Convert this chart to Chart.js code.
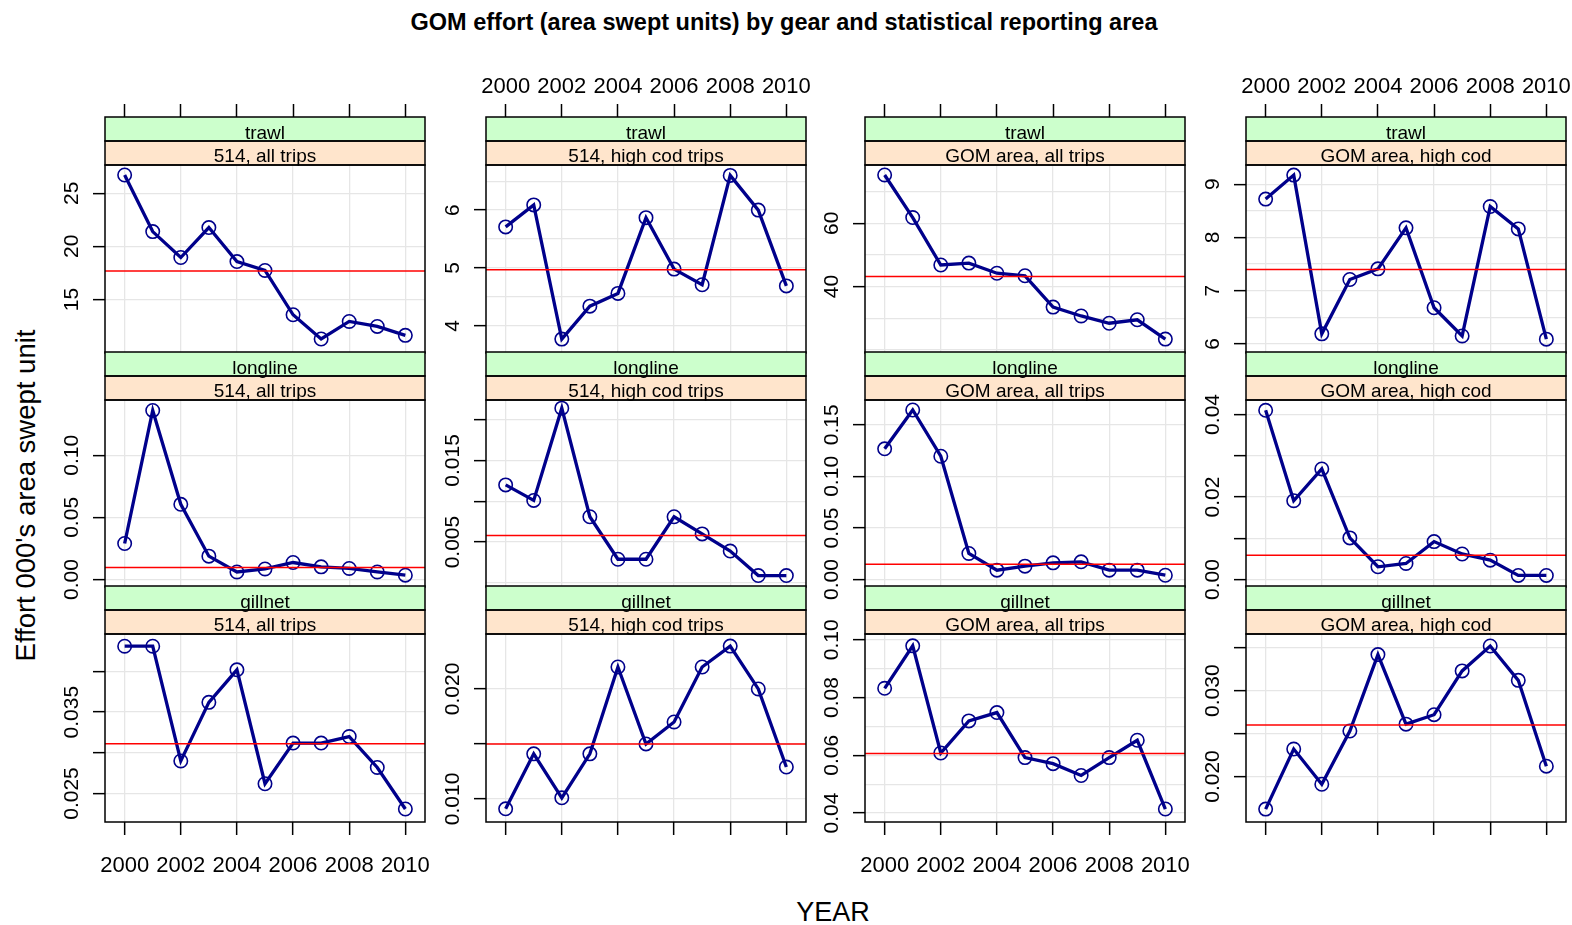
<!DOCTYPE html>
<html><head><meta charset="utf-8">
<script src="https://cdn.jsdelivr.net/npm/chart.js@4.4.1/dist/chart.umd.min.js"></script>
<style>
html,body{margin:0;padding:0;background:#fff;width:1572px;height:925px;overflow:hidden;font-family:'Liberation Sans',Arial,sans-serif;}
canvas{position:absolute;}
.t{position:absolute;white-space:nowrap;color:#000;}
</style></head><body>
<div class="t" style="left:0;width:1568px;top:9px;text-align:center;font-weight:bold;font-size:23.5px;">GOM effort (area swept units) by gear and statistical reporting area</div>
<div class="t" style="left:0;width:1666px;top:897px;text-align:center;font-size:27px;">YEAR</div>
<div class="t" style="left:-275px;width:600px;top:480px;text-align:center;font-size:27.5px;line-height:31px;transform:rotate(-90deg);transform-origin:300px 15.5px;">Effort 000's area swept unit</div>
<script>
// ---------- data ----------
const years = [2000, 2001, 2002, 2003, 2004, 2005, 2006, 2007, 2008, 2009, 2010];
const xTicks = [2000, 2002, 2004, 2006, 2008, 2010];
const xTickLabels = ['2000', '2002', '2004', '2006', '2008', '2010'];
const gears = ['trawl', 'longline', 'gillnet'];
const areas = ['514, all trips', '514, high cod trips', 'GOM area, all trips', 'GOM area, high cod'];

const trawl514All  = [26.72, 21.39, 18.95, 21.77, 18.57, 17.73, 13.56, 11.28, 12.93, 12.46, 11.62];
const trawl514High = [5.71, 6.09, 3.77, 4.34, 4.56, 5.87, 4.98, 4.71, 6.60, 6.00, 4.69];
const trawlGomAll  = [75.25, 61.8, 46.8, 47.4, 44.2, 43.4, 33.5, 30.7, 28.4, 29.5, 23.4];
const trawlGomHigh = [8.72, 9.17, 6.19, 7.21, 7.41, 8.18, 6.68, 6.15, 8.58, 8.16, 6.09];
const trawlRef     = [17.67, 4.97, 43.2, 7.40];

const longline514All  = [0.029, 0.136, 0.0605, 0.0188, 0.0061, 0.0085, 0.0137, 0.0102, 0.0089, 0.0061, 0.0035];
const longline514High = [0.0120, 0.0101, 0.0214, 0.0081, 0.0029, 0.0029, 0.0081, 0.0060, 0.0039, 0.0009, 0.0009];
const longlineGomAll  = [0.1267, 0.1643, 0.1195, 0.0253, 0.0091, 0.0130, 0.0162, 0.0172, 0.0091, 0.0091, 0.0042];
const longlineGomHigh = [0.0410, 0.0191, 0.0268, 0.0101, 0.0031, 0.0039, 0.0092, 0.0062, 0.0047, 0.0010, 0.0010];
const longlineRef     = [0.0097, 0.0058, 0.0149, 0.0059];

const gillnet514All  = [0.0431, 0.0431, 0.0290, 0.0362, 0.0402, 0.0262, 0.0312, 0.0312, 0.0320, 0.0282, 0.0231];
const gillnet514High = [0.0091, 0.0141, 0.0101, 0.0141, 0.0220, 0.0150, 0.0170, 0.0220, 0.0239, 0.0200, 0.0129];
const gillnetGomAll  = [0.0832, 0.0979, 0.0608, 0.0719, 0.0748, 0.0592, 0.0571, 0.0530, 0.0592, 0.0652, 0.0414];
const gillnetGomHigh = [0.0162, 0.0232, 0.0191, 0.0253, 0.0342, 0.0261, 0.0272, 0.0323, 0.0352, 0.0312, 0.0212];
const gillnetRef     = [0.0311, 0.0150, 0.0606, 0.0260];

// y axis ticks, labels ('' = tick without label), grid lines, limits
const trawlYTicks  = [[15, 20, 25], [4, 5, 6], [40, 60], [6, 7, 8, 9]];
const trawlYLabels = [['15', '20', '25'], ['4', '5', '6'], ['40', '60'], ['6', '7', '8', '9']];
const trawlYGrid   = [[15, 20, 25], [4, 4.5, 5, 5.5, 6, 6.5], [20, 30, 40, 50, 60, 70], [6, 6.5, 7, 7.5, 8, 8.5, 9]];
const trawlYMin    = [9.96, 3.53, 19.0, 5.83];
const trawlYMax    = [27.66, 6.78, 78.4, 9.36];

const longlineYTicks  = [[0, 0.05, 0.10], [0.005, 0.010, 0.015, 0.020], [0, 0.05, 0.10, 0.15], [0, 0.01, 0.02, 0.03, 0.04]];
const longlineYLabels = [['0.00', '0.05', '0.10'], ['0.005', '', '0.015', ''], ['0.00', '0.05', '0.10', '0.15'], ['0.00', '', '0.02', '', '0.04']];
const longlineYGrid   = [[0, 0.05, 0.10], [0, 0.005, 0.010, 0.015, 0.020], [0, 0.05, 0.10, 0.15], [0, 0.01, 0.02, 0.03, 0.04]];
const longlineYMin    = [-0.006, -0.0005, -0.0072, -0.0018];
const longlineYMax    = [0.1444, 0.0224, 0.174, 0.0435];

const gillnetYTicks  = [[0.025, 0.030, 0.035, 0.040], [0.010, 0.015, 0.020], [0.04, 0.06, 0.08, 0.10], [0.020, 0.025, 0.030, 0.035]];
const gillnetYLabels = [['0.025', '', '0.035', ''], ['0.010', '', '0.020'], ['0.04', '0.06', '0.08', '0.10'], ['0.020', '', '0.030', '']];
const gillnetYGrid   = [[0.025, 0.030, 0.035, 0.040], [0.010, 0.015, 0.020], [0.04, 0.05, 0.06, 0.07, 0.08, 0.09, 0.10], [0.020, 0.025, 0.030, 0.035]];
const gillnetYMin    = [0.0215, 0.0079, 0.0369, 0.0147];
const gillnetYMax    = [0.0446, 0.025, 0.102, 0.0366];

// ---------- assembly ----------
const values = [
  [trawl514All, trawl514High, trawlGomAll, trawlGomHigh],
  [longline514All, longline514High, longlineGomAll, longlineGomHigh],
  [gillnet514All, gillnet514High, gillnetGomAll, gillnetGomHigh]
];
const refs = [trawlRef, longlineRef, gillnetRef];
const yTicks = [trawlYTicks, longlineYTicks, gillnetYTicks];
const yLabels = [trawlYLabels, longlineYLabels, gillnetYLabels];
const yGrid = [trawlYGrid, longlineYGrid, gillnetYGrid];
const yMin = [trawlYMin, longlineYMin, gillnetYMin];
const yMax = [trawlYMax, longlineYMax, gillnetYMax];

const FONT = "'Liberation Sans', Arial, sans-serif";
const YFONT = 21;
const X_MIN = 1999.3, X_MAX = 2010.7;
const L = [105, 486, 865, 1246], T = [165, 400, 634], H = [188, 187, 188], W = 320;
const AX_L = 95, AX_T = 98, AX_B = 62, PAD_R = 30;
const GRID = '#e6e6e6';
const mctx = document.createElement('canvas').getContext('2d');
mctx.font = YFONT + 'px ' + FONT;
const key = v => Math.round(v * 1e6);

function stripPlugin(r, c) {
  return {
    id: 'strips',
    afterDraw(chart) {
      const ctx = chart.ctx, a = chart.chartArea;
      const w = a.right - a.left;
      ctx.save();
      ctx.fillStyle = '#ccffcc';
      ctx.fillRect(a.left, a.top - 48, w, 24);
      ctx.fillStyle = '#ffe5cc';
      ctx.fillRect(a.left, a.top - 24, w, 24);
      ctx.strokeStyle = '#000';
      ctx.lineWidth = 1.5;
      ctx.strokeRect(a.left, a.top - 48, w, 24);
      ctx.strokeRect(a.left, a.top - 24, w, 24);
      ctx.strokeRect(a.left, a.top, w, a.bottom - a.top);
      ctx.fillStyle = '#000';
      ctx.font = '19px ' + FONT;
      ctx.textAlign = 'center';
      ctx.textBaseline = 'alphabetic';
      ctx.fillText(gears[r], (a.left + a.right) / 2, a.top - 26);
      ctx.fillText(areas[c], (a.left + a.right) / 2, a.top - 3.5);
      ctx.restore();
    }
  };
}

for (let r = 0; r < 3; r++) {
  for (let c = 0; c < 4; c++) {
    const canvas = document.createElement('canvas');
    const cw = AX_L + W + PAD_R, ch = AX_T + H[r] + AX_B;
    canvas.width = cw; canvas.height = ch;
    canvas.style.left = (L[c] - AX_L) + 'px';
    canvas.style.top = (T[r] - AX_T) + 'px';
    document.body.appendChild(canvas);

    const ticks = yTicks[r][c], labels = yLabels[r][c], grid = yGrid[r][c];
    const labelMap = new Map(ticks.map((v, i) => [key(v), labels[i]]));
    const allMap = new Map();
    ticks.concat(grid).forEach(v => allMap.set(key(v), v));
    const all = Array.from(allMap.values()).sort((a, b) => a - b);
    const widest = Math.max(...labels.map(s => mctx.measureText(s).width));
    const ypad = 21 - widest / 2;
    const xLab = v => { const i = xTicks.indexOf(v); return i >= 0 ? xTickLabels[i] : ''; };

    new Chart(canvas, {
      type: 'line',
      data: {
        datasets: [
          { label: 'reference', data: [{ x: X_MIN, y: refs[r][c] }, { x: X_MAX, y: refs[r][c] }],
            borderColor: '#ff0000', borderWidth: 1.5, pointRadius: 0, xAxisID: 'x', yAxisID: 'y' },
          { label: 'effort', data: years.map((yr, i) => ({ x: yr, y: values[r][c][i] })),
            borderColor: '#00008B', borderWidth: 3.3, tension: 0,
            pointRadius: 6.7, pointBorderWidth: 1.6, pointBackgroundColor: 'rgba(0,0,0,0)',
            pointBorderColor: '#00008B', xAxisID: 'x', yAxisID: 'y' }
        ]
      },
      options: {
        responsive: false, animation: false, devicePixelRatio: 1,
        layout: { padding: { left: 0, top: 0, right: PAD_R, bottom: 0 } },
        plugins: { legend: { display: false }, tooltip: { enabled: false }, title: { display: false } },
        scales: {
          x: {
            type: 'linear', position: 'bottom', min: X_MIN, max: X_MAX,
            afterBuildTicks: s => { s.ticks = xTicks.map(v => ({ value: v })); },
            afterFit: s => { s.height = AX_B; },
            grid: { color: GRID, lineWidth: 1.3, drawOnChartArea: true, drawTicks: true, tickLength: 13,
                    tickWidth: 1.5, tickColor: r === 2 ? '#000' : 'rgba(0,0,0,0)' },
            border: { display: false },
            ticks: { display: r === 2 && (c === 0 || c === 2), autoSkip: false, minRotation: 0, maxRotation: 0,
                     padding: 18, color: '#000', font: { family: FONT, size: 22 }, callback: v => xLab(v) }
          },
          x2: {
            type: 'linear', position: 'top', min: X_MIN, max: X_MAX,
            afterBuildTicks: s => { s.ticks = xTicks.map(v => ({ value: v })); },
            afterFit: s => { s.height = AX_T; },
            grid: { drawOnChartArea: false, drawTicks: true, tickLength: 61, tickWidth: 1.5,
                    tickColor: r === 0 ? '#000' : 'rgba(0,0,0,0)' },
            border: { display: false },
            ticks: { display: r === 0 && (c === 1 || c === 3), autoSkip: false, minRotation: 0, maxRotation: 0,
                     padding: 4, color: '#000', font: { family: FONT, size: 22 }, callback: v => xLab(v) }
          },
          y: {
            type: 'linear', position: 'left', min: yMin[r][c], max: yMax[r][c],
            afterBuildTicks: s => { s.ticks = all.map(v => ({ value: v })); },
            afterFit: s => { s.width = AX_L; },
            grid: { color: GRID, lineWidth: 1.3, drawTicks: true, tickLength: 12, tickWidth: 1.5,
                    tickColor: ctx => (ctx.tick && labelMap.has(key(ctx.tick.value))) ? '#000' : 'rgba(0,0,0,0)' },
            border: { display: false },
            ticks: { autoSkip: false, minRotation: 90, maxRotation: 90, crossAlign: 'center', padding: ypad,
                     color: '#000', font: { family: FONT, size: YFONT },
                     callback: v => { const s = labelMap.get(key(v)); return s === undefined ? '' : s; } }
          }
        }
      },
      plugins: [stripPlugin(r, c)]
    });
  }
}
</script>
</body></html>
